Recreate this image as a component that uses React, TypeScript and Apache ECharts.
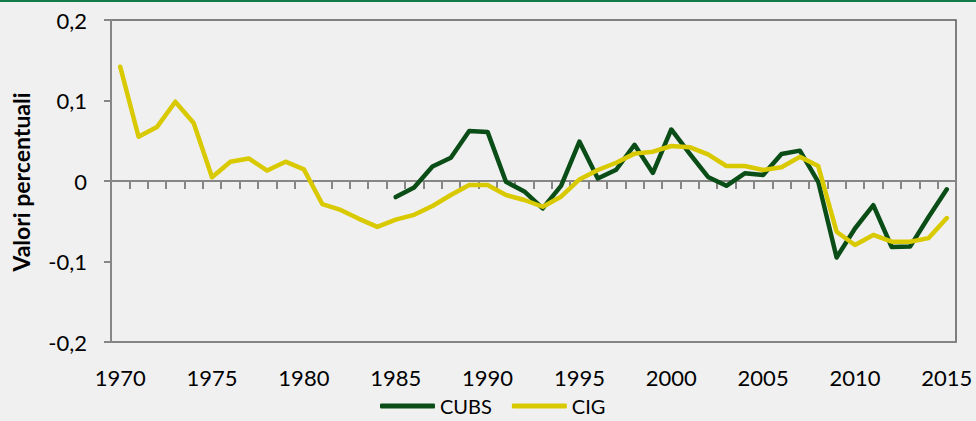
import React, { useEffect, useRef } from "react";
import * as echarts from "echarts";

const years: string[] = [];
for (let y = 1970; y <= 2015; y++) years.push(String(y));

const cubs: (number | null)[] = [
  null, null, null, null, null, null, null, null, null, null,
  null, null, null, null, null,
  -0.02, -0.008, 0.018, 0.029, 0.062, 0.061, -0.001, -0.013, -0.034, -0.006,
  0.049, 0.003, 0.014, 0.045, 0.01, 0.064, 0.034, 0.005, -0.006, 0.0095,
  0.0075, 0.0335, 0.0377, -0.001, -0.095, -0.059, -0.03, -0.082, -0.0815, -0.045,
  -0.0103,
];

const cig: number[] = [
  0.142, 0.055, 0.067, 0.0985, 0.072, 0.0046, 0.024, 0.028, 0.013, 0.024,
  0.0145, -0.0286, -0.036, -0.047, -0.057, -0.048, -0.042, -0.031, -0.0174, -0.005,
  -0.005, -0.0174, -0.0236, -0.032, -0.0195, 0.002, 0.0137, 0.0227, 0.034, 0.0364,
  0.0435, 0.042, 0.033, 0.0186, 0.0186, 0.0137, 0.017, 0.030, 0.0186, -0.063,
  -0.0795, -0.067, -0.0754, -0.0754, -0.071, -0.046,
];

const FONT = "Lato";
const GREY = "#868686";
const GREEN = "#0a4d17";
const YELLOW = "#d9c900";

export default function App() {
  const ref = useRef<HTMLDivElement>(null);
  useEffect(() => {
    if (!ref.current) return;
    const chart = echarts.init(ref.current, null, { renderer: "svg" });
    chart.setOption({
      animation: false,
      backgroundColor: "#f0f0f0",
      textStyle: { fontFamily: FONT },
      graphic: [
        {
          type: "rect",
          left: 0,
          top: 0,
          shape: { width: 976, height: 2 },
          style: { fill: "#127a48" },
        },
        {
          type: "text",
          x: 9,
          y: 182,
          rotation: Math.PI / 2,
          style: {
            text: "Valori percentuali",
            fontFamily: FONT,
            fontWeight: "bold",
            fontSize: 23,
            fill: "#000",
            align: "center",
            verticalAlign: "top",
          },
        },
      ],
      grid: {
        left: 111,
        right: 20,
        top: 20,
        bottom: 79,
        show: true,
        borderColor: "#595959",
        borderWidth: 1.5,
        backgroundColor: "transparent",
      },
      legend: {
        data: [
          { name: "CUBS", icon: "roundRect", itemStyle: { color: GREEN } },
          { name: "CIG", icon: "roundRect", itemStyle: { color: YELLOW } },
        ],
        left: 380,
        top: 396,
        padding: 0,
        itemWidth: 55,
        itemHeight: 5,
        itemGap: 20,
        textStyle: { fontFamily: FONT, fontSize: 20, color: "#000" },
      },
      xAxis: [
        {
          type: "category",
          data: years,
          position: "bottom",
          boundaryGap: true,
          axisLine: { onZero: false, lineStyle: { color: GREY, width: 1.5 } },
          axisTick: { show: false },
          axisLabel: {
            interval: 4,
            fontSize: 22,
            color: "#000",
            margin: 24,
            fontFamily: FONT,
          },
          splitLine: { show: false },
        },
        {
          type: "category",
          data: years,
          position: "top",
          boundaryGap: true,
          axisLine: { onZero: true, lineStyle: { color: GREY, width: 2 } },
          axisTick: {
            show: true,
            inside: true,
            length: 8,
            interval: 0,
            lineStyle: { color: GREY, width: 2 },
          },
          axisLabel: { show: false },
          splitLine: { show: false },
        },
      ],
      yAxis: {
        type: "value",
        min: -0.2,
        max: 0.2,
        interval: 0.1,
        axisLine: { show: true, lineStyle: { color: GREY, width: 2 } },
        axisTick: { show: true, length: 7, lineStyle: { color: GREY, width: 2 } },
        splitLine: { show: false },
        axisLabel: {
          fontSize: 22,
          color: "#000",
          margin: 24,
          fontFamily: FONT,
          formatter: (v: number) => {
            const r = Math.round(v * 10) / 10;
            if (r === 0) return "0";
            return String(r).replace(".", ",");
          },
        },
      },
      series: [
        {
          name: "CUBS",
          type: "line",
          xAxisIndex: 0,
          data: cubs,
          symbol: "none",
          showSymbol: false,
          connectNulls: false,
          lineStyle: { color: GREEN, width: 4.5, cap: "round", join: "round" },
          itemStyle: { color: GREEN },
        },
        {
          name: "CIG",
          type: "line",
          xAxisIndex: 0,
          data: cig,
          symbol: "none",
          showSymbol: false,
          lineStyle: { color: YELLOW, width: 4.5, cap: "round", join: "round" },
          itemStyle: { color: YELLOW },
        },
      ],
    });
    return () => chart.dispose();
  }, []);
  return (
    <div
      ref={ref}
      style={{
        position: "fixed",
        left: 0,
        top: 0,
        width: 976,
        height: 421,
        background: "#f0f0f0",
      }}
    />
  );
}
